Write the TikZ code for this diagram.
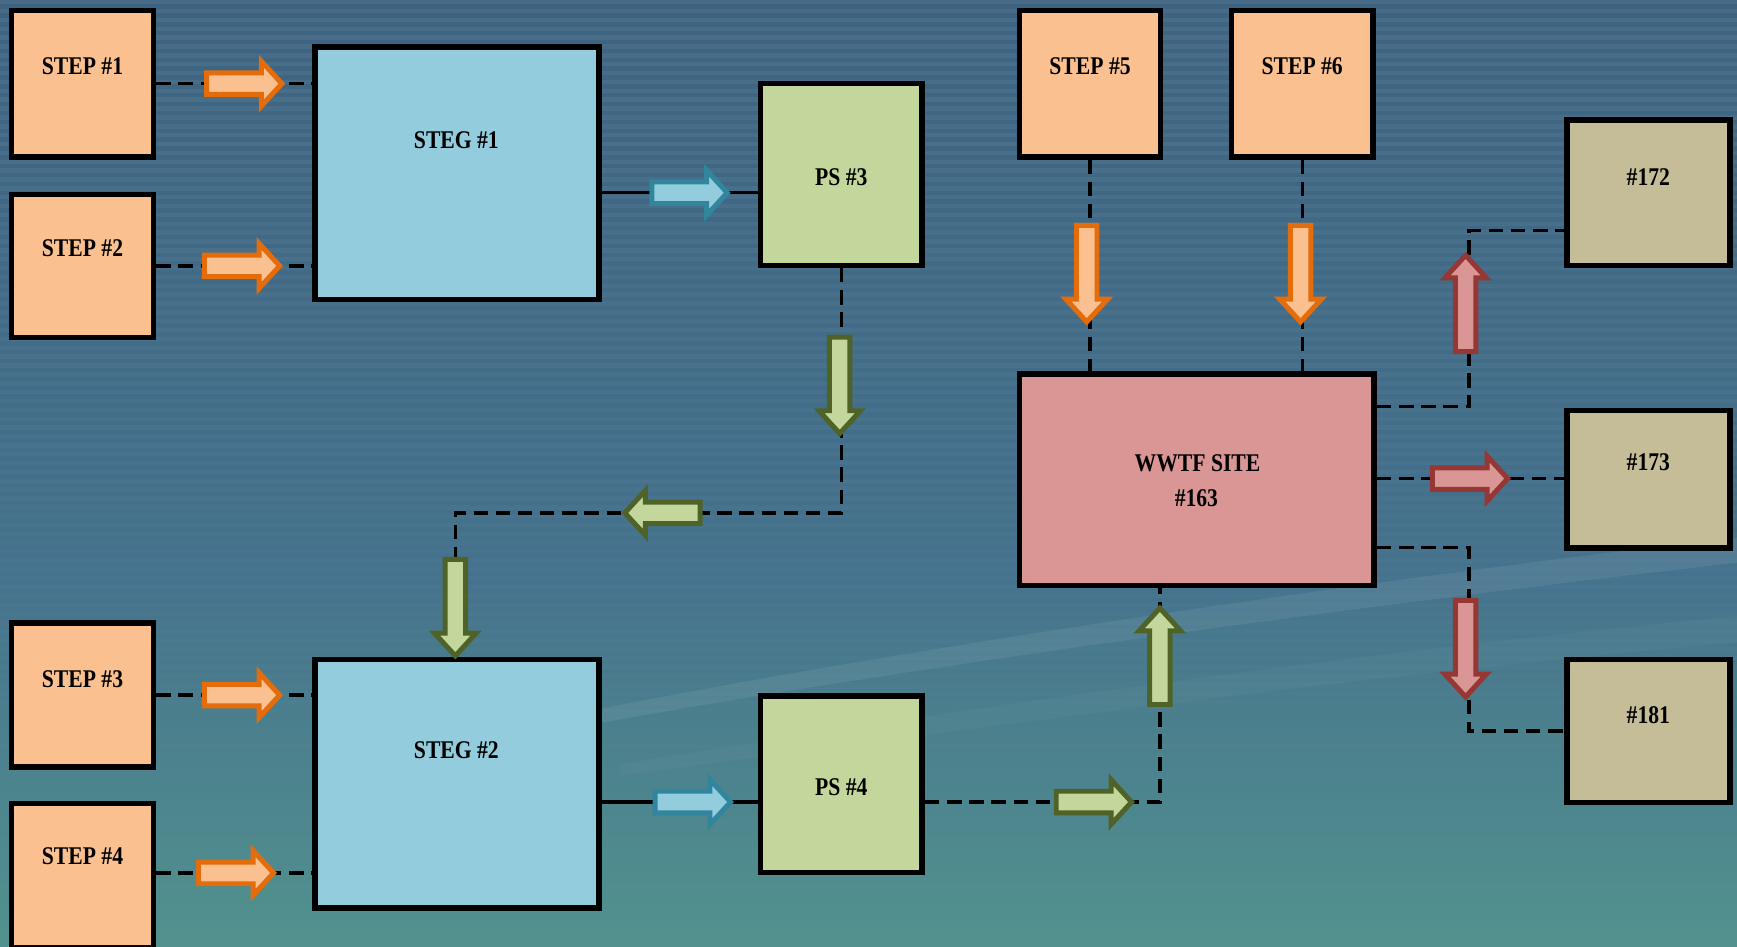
\documentclass[tikz,border=0pt]{standalone}
\usepackage{fontspec}
\newfontfamily\labfont{Liberation Serif}[FakeStretch=0.85]
\usetikzlibrary{shapes.arrows}
\definecolor{bgtop}{HTML}{3D6380}
\definecolor{bgmid}{HTML}{45728D}
\definecolor{bgbot}{HTML}{52928E}
\definecolor{peach}{HTML}{FAC090}
\definecolor{lblue}{HTML}{93CDDD}
\definecolor{lgreen}{HTML}{C3D69B}
\definecolor{pink}{HTML}{D99694}
\definecolor{tan}{HTML}{C4BD97}
\definecolor{orangeD}{HTML}{E46C0A}
\definecolor{blueD}{HTML}{31859C}
\definecolor{greenD}{HTML}{4F6228}
\definecolor{redD}{HTML}{953735}
\tikzset{
  boxbase/.style={draw=black, line width=5pt, inner sep=0pt},
  stepbox/.style={boxbase, fill=peach},
  stegbox/.style={boxbase, fill=lblue},
  psbox/.style={boxbase, fill=lgreen},
  wwtfbox/.style={boxbase, fill=pink},
  sitebox/.style={boxbase, fill=tan},
  boxtext/.style={font=\labfont\bfseries\fontsize{23}{28}\selectfont, inner sep=0pt, anchor=base, text=black},
  dline/.style={draw=black, line width=3pt, dash pattern=on 13pt off 7pt},
  sline/.style={draw=black, line width=3pt},
  barrow/.style={single arrow, line width=4.5pt, minimum width=0pt, anchor=center, miter limit=10},
  harr/.style={barrow, inner xsep=0pt, inner ysep=7.5pt, single arrow head extend=10.5pt, minimum height=68pt, single arrow tip angle=95},
  varr/.style={barrow, inner ysep=0pt, inner xsep=7pt, single arrow head extend=9.5pt, minimum height=87pt, single arrow tip angle=85},
  oarr/.style={draw=orangeD, fill=peach},
  barr/.style={draw=blueD, fill=lblue},
  garr/.style={draw=greenD, fill=lgreen},
  rarr/.style={draw=redD, fill=pink},
}
% name, style, x1, y1, x2, y2
\newcommand\drawbox[6]{%
  \pgfmathsetmacro\bxw{#5-#3-5}%
  \pgfmathsetmacro\bxh{#6-#4-5}%
  \node[#2, minimum width=\bxw pt, minimum height=\bxh pt] (#1) at ({(#3+#5)/2},{(#4+#6)/2}) {};%
}
\begin{document}
\begin{tikzpicture}[x=1pt,y=-1pt]
\useasboundingbox (0,0) rectangle (1568,854);
% background
\shade[top color=bgtop, bottom color=bgmid] (0,0) rectangle (1568,520);
\shade[top color=bgmid, bottom color=bgbot] (0,519.5) rectangle (1568,854);
\foreach \i in {0,...,85} {
  \pgfmathsetmacro\op{0.06*(1-\i/95)}
  \fill[white, opacity=\op] (0,{\i*8}) rectangle (1568,{\i*8+4});
}
\fill[white, opacity=0.07] (500,648) .. controls (800,588) and (1200,528) .. (1568,485) -- (1568,508) .. controls (1200,550) and (800,605) .. (500,660) -- cycle;
\fill[white, opacity=0.03] (560,690) .. controls (850,642) and (1200,592) .. (1568,556) -- (1568,580) .. controls (1200,612) and (850,662) .. (560,700) -- cycle;

% boxes
\drawbox{s1}{stepbox}{8}{7}{141}{144}
\drawbox{s2}{stepbox}{8}{173}{141}{307}
\drawbox{s3}{stepbox}{8}{560}{141}{695}
\drawbox{s4}{stepbox}{8}{723}{141}{858}
\drawbox{g1}{stegbox}{282}{40}{543}{273}
\drawbox{g2}{stegbox}{282}{593}{543}{822}
\drawbox{p3}{psbox}{684}{73}{835}{242}
\drawbox{p4}{psbox}{684}{626}{835}{790}
\drawbox{s5}{stepbox}{918}{7}{1050}{144}
\drawbox{s6}{stepbox}{1109}{7}{1242}{144}
\drawbox{w}{wwtfbox}{918}{335}{1243}{531}
\drawbox{t172}{sitebox}{1412}{106}{1564}{242}
\drawbox{t173}{sitebox}{1412}{368}{1564}{497}
\drawbox{t181}{sitebox}{1412}{593}{1564}{727}

% labels
\node[boxtext] (l1) at (74.5,67.5) {STEP \#1};
\node[boxtext] (l2) at (74.5,231.5) {STEP \#2};
\node[boxtext] (l3) at (74.5,620.5) {STEP \#3};
\node[boxtext] (l4) at (74.5,780.5) {STEP \#4};
\node[boxtext] (lg1) at (412,134.5) {STEG \#1};
\node[boxtext] (lg2) at (412,684.5) {STEG \#2};
\node[boxtext] (lp3) at (759.5,167.5) {PS \#3};
\node[boxtext] (lp4) at (759.5,718.5) {PS \#4};
\node[boxtext] (l5) at (984,67.5) {STEP \#5};
\node[boxtext] (l6) at (1175.5,67.5) {STEP \#6};
\node[boxtext] (lw1) at (1081,425.5) {WWTF SITE};
\node[boxtext] (lw2) at (1080,457.5) {\#163};
\node[boxtext] (l172) at (1488,167.5) {\#172};
\node[boxtext] (l173) at (1488,424.5) {\#173};
\node[boxtext] (l181) at (1488,653.5) {\#181};

% helper coordinates
\coordinate (k1) at (0,174);
\coordinate (k2) at (0,724);
\coordinate (k3) at (759.5,463);
\coordinate (k4) at (411,463);
\coordinate (k5) at (1047,724);
\coordinate (k6a) at (1326,367);
\coordinate (k6b) at (1326,208);
\coordinate (k7) at (0,432);
\coordinate (k8a) at (1326,494.5);
\coordinate (k8b) at (1326,660);
\coordinate (k9) at (0,788);

% connectors
\draw[dline] (s1.east) -- (s1.east -| g1.west);
\draw[dline] (s2.east) -- (s2.east -| g1.west);
\draw[dline] (s3.east) -- (s3.east -| g2.west);
\draw[dline] (s4.east |- k9) -- (g2.west |- k9);
\draw[sline] (g1.east |- k1) -- (p3.west |- k1);
\draw[sline] (g2.east |- k2) -- (p4.west |- k2);
\draw[dline] (p3.south) -- (k3) -- (k4) -- (k4 |- g2.north);
\draw[dline] (p4.east |- k2) -- (k5) -- (k5 |- w.south);
\draw[dline] (s5.south) -- (s5.south |- w.north);
\draw[dline] (s6.south) -- (s6.south |- w.north);
\draw[dline] (w.east |- k6a) -- (k6a) -- (k6b) -- (t172.west |- k6b);
\draw[dline] (w.east |- k7) -- (t173.west |- k7);
\draw[dline] (w.east |- k8a) -- (k8a) -- (k8b) -- (t181.west |- k8b);

% block arrows
\node[harr, oarr] (oa1) at (216,75.5) {};
\node[harr, oarr] (oa2) at (214,240) {};
\node[harr, oarr] (oa3) at (214,627.5) {};
\node[harr, oarr] (oa4) at (208.5,788) {};
\node[harr, barr] (ba1) at (618,174) {};
\node[harr, barr] (ba2) at (621,724) {};
\node[varr, garr, shape border rotate=270] (ga1) at (758,342.7) {};
\node[harr, garr, shape border rotate=180] (ga2) at (602.5,463) {};
\node[varr, garr, shape border rotate=270] (ga3) at (411,543.5) {};
\node[harr, garr] (ga4) at (983,724) {};
\node[varr, garr, shape border rotate=90] (ga5) at (1047,597.5) {};
\node[varr, oarr, shape border rotate=270] (oa5) at (981,242) {};
\node[varr, oarr, shape border rotate=270] (oa6) at (1174,242) {};
\node[varr, rarr, shape border rotate=90] (ra1) at (1323,279) {};
\node[harr, rarr] (ra2) at (1322.5,432) {};
\node[varr, rarr, shape border rotate=270] (ra3) at (1323,580.5) {};
\end{tikzpicture}
\end{document}
